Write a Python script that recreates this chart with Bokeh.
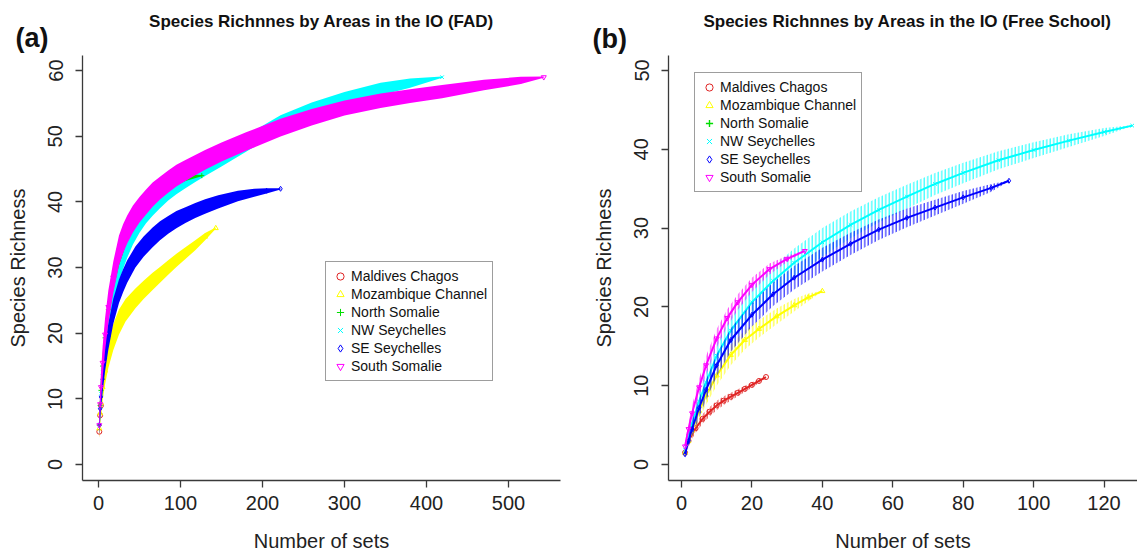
from bokeh.plotting import figure
from bokeh.layouts import row, column
from bokeh.models import Range1d, FixedTicker, Legend, LegendItem
from bokeh.core.properties import value
from bokeh.embed import file_html
from bokeh.resources import INLINE

FONT = "Liberation Sans"

names = ["Maldives Chagos", "Mozambique Channel", "North Somalie",
         "NW Seychelles", "SE Seychelles", "South Somalie"]
colors = ["#E02424", "#FFFF00", "#00DD00", "#00FFFF", "#0000FF", "#FF00FF"]
markers = ["circle", "triangle", "cross", "x", "diamond", "inverted_triangle"]

titles = ["Species Richnnes by Areas in the IO (FAD)",
          "Species Richnnes by Areas in the IO (Free School)"]
tags = ["(a)", "(b)"]

# ---------------- Panel (a): FAD ----------------
fad_ticks_x = [0, 100, 200, 300, 400, 500]
fad_ticks_y = [0, 10, 20, 30, 40, 50, 60]

fad_mal_x = [1, 2, 3]
fad_mal_mean = [5, 7.5, 9]
fad_mal_half = [1.0, 1.0, 0.1]

fad_moz_x = [1, 2, 3, 5, 8, 12, 18, 25, 33, 45, 55, 66, 75, 85, 95, 106, 118, 130, 143]
fad_moz_mean = [5.5, 7.8, 9.4, 11.8, 14.3, 16.8, 19.4, 21.7, 23.5, 25.3, 26.6, 27.9, 28.9, 30, 31.1, 32.2, 33.4, 34.7, 36]
fad_moz_half = [1.5, 1.8, 2, 2.1, 2.1, 2.1, 2, 1.9, 1.7, 1.5, 1.4, 1.3, 1.2, 1.1, 1.0, 0.9, 0.75, 0.55, 0.1]

fad_nso_x = [1, 2, 3, 5, 8, 12, 18, 25, 35, 50, 66, 85, 106, 126]
fad_nso_mean = [6, 9, 11.3, 15, 19.3, 23.6, 28.2, 31.8, 35.4, 38.6, 40.9, 42.6, 43.7, 44]
fad_nso_half = [1.3, 1.6, 1.8, 1.8, 1.8, 1.8, 1.7, 1.5, 1.3, 1.1, 0.9, 0.7, 0.5, 0.1]

fad_nws_x = [1, 2, 3, 5, 8, 12, 18, 25, 30, 35, 42, 50, 58, 66, 75, 85, 95, 106, 118, 130, 150, 180, 222, 260, 300, 344, 380, 419]
fad_nws_mean = [6, 8.8, 10.8, 14, 17.8, 21.8, 26, 29.8, 31.8, 33.4, 35.3, 37, 38.4, 39.5, 40.6, 41.7, 42.6, 43.5, 44.4, 45.3, 46.7, 48.9, 52.0, 54.0, 55.7, 57.2, 58.1, 59]
fad_nws_half = [1.5, 2, 2.2, 2.4, 2.4, 2.4, 2.3, 2.1, 2.0, 1.9, 1.8, 1.7, 1.65, 1.6, 1.55, 1.5, 1.45, 1.4, 1.37, 1.35, 1.3, 1.25, 1.2, 1.15, 1.05, 0.95, 0.7, 0.1]

fad_ses_x = [1, 2, 3, 5, 8, 12, 18, 25, 30, 35, 45, 55, 66, 75, 85, 95, 106, 118, 130, 146, 170, 190, 205, 222]
fad_ses_mean = [6, 8.5, 10.3, 13, 16.2, 19.5, 23.3, 26.4, 28.0, 29.4, 31.6, 33.2, 34.6, 35.6, 36.5, 37.3, 38, 38.7, 39.3, 40, 40.9, 41.4, 41.7, 42]
fad_ses_half = [1.5, 1.8, 2, 2, 2, 2, 1.9, 1.8, 1.75, 1.7, 1.6, 1.55, 1.5, 1.45, 1.35, 1.3, 1.2, 1.15, 1.1, 1.0, 0.8, 0.6, 0.4, 0.1]

fad_sso_x = [1, 2, 3, 5, 8, 12, 18, 25, 30, 35, 42, 50, 58, 66, 75, 85, 95, 106, 118, 130, 150, 180, 222, 260, 300, 344, 380, 419, 470, 515, 543]
fad_sso_mean = [6, 9.2, 11.8, 15.5, 19.8, 24, 28.5, 32.6, 34.4, 35.8, 37.4, 38.8, 40, 41.1, 42.1, 43.1, 44, 44.8, 45.6, 46.4, 47.6, 49.2, 51.3, 52.9, 54.3, 55.4, 56.1, 56.8, 57.8, 58.5, 59]
fad_sso_half = [1.5, 2, 2.2, 2.4, 2.5, 2.5, 2.4, 2.3, 2.2, 2.15, 2.05, 1.95, 1.9, 1.85, 1.75, 1.7, 1.65, 1.6, 1.55, 1.5, 1.45, 1.4, 1.35, 1.25, 1.15, 1.1, 1.05, 1.0, 0.8, 0.55, 0.1]

# ---------------- Panel (b): Free School ----------------
fsc_ticks_x = [0, 20, 40, 60, 80, 100, 120]
fsc_ticks_y = [0, 10, 20, 30, 40, 50]

fsc_mal_x = [1, 2, 4, 6, 8, 10, 12, 14, 16, 18, 20, 22, 24]
fsc_mal_mean = [1.5, 3.0, 4.6, 5.8, 6.7, 7.5, 8.1, 8.6, 9.1, 9.6, 10.1, 10.6, 11.1]
fsc_mal_half = [0.4, 0.5, 0.6, 0.6, 0.6, 0.6, 0.55, 0.5, 0.45, 0.4, 0.35, 0.25, 0.05]

fsc_moz_x = [1, 2, 3, 5, 7, 10, 14, 18, 22, 27, 32, 36, 40]
fsc_moz_mean = [1.5, 3.0, 4.3, 6.8, 8.8, 11.3, 13.9, 15.8, 17.2, 18.8, 20.2, 21.2, 22.0]
fsc_moz_half = [0.5, 0.7, 0.9, 1.1, 1.2, 1.3, 1.3, 1.2, 1.1, 1.0, 0.8, 0.5, 0.05]

fsc_nws_x = [1, 2, 3, 5, 7, 10, 14, 20, 26, 32, 40, 48, 56, 64, 72, 80, 90, 100, 110, 120, 128]
fsc_nws_mean = [1.8, 3.6, 5.2, 8.0, 10.4, 13.8, 17.0, 20.6, 23.3, 25.6, 28.2, 30.4, 32.3, 34.0, 35.6, 37.0, 38.6, 39.9, 41.1, 42.2, 43.0]
fsc_nws_half = [0.6, 0.9, 1.1, 1.3, 1.4, 1.6, 1.7, 1.8, 1.8, 1.8, 1.8, 1.7, 1.6, 1.5, 1.4, 1.3, 1.15, 1.0, 0.8, 0.5, 0.05]

fsc_ses_x = [1, 2, 3, 5, 7, 10, 14, 20, 26, 32, 40, 48, 56, 64, 72, 80, 88, 93]
fsc_ses_mean = [1.3, 3.0, 4.5, 7.2, 9.5, 12.6, 15.8, 19.0, 21.6, 23.7, 26.0, 28.0, 29.8, 31.3, 32.6, 33.9, 35.1, 36.0]
fsc_ses_half = [0.5, 0.8, 1.0, 1.2, 1.3, 1.4, 1.5, 1.5, 1.5, 1.5, 1.5, 1.4, 1.3, 1.2, 1.0, 0.8, 0.5, 0.05]

fsc_sso_x = [1, 2, 3, 5, 7, 10, 13, 16, 20, 25, 30, 35]
fsc_sso_mean = [2.3, 4.5, 6.5, 9.8, 12.6, 16.0, 18.6, 20.6, 22.8, 24.8, 26.1, 27.1]
fsc_sso_half = [0.6, 0.8, 1.0, 1.1, 1.2, 1.2, 1.1, 1.0, 0.9, 0.7, 0.4, 0.05]
# North Somalie has no Free School sets: only its legend entry is shown


def style_axes(p, xticks, yticks):
    p.xaxis.ticker = FixedTicker(ticks=xticks)
    p.yaxis.ticker = FixedTicker(ticks=yticks)
    for ax in (p.xaxis[0], p.yaxis[0]):
        ax.axis_line_color = "#3a3a3a"
        ax.axis_line_width = 1.3
        ax.major_tick_line_color = "#3a3a3a"
        ax.major_tick_line_width = 1.3
        ax.major_tick_out = 7
        ax.major_tick_in = 0
        ax.minor_tick_line_color = None
        ax.major_label_text_font = FONT
        ax.major_label_text_font_size = "20px"
        ax.major_label_text_color = "#222222"
        ax.axis_label_text_font = FONT
        ax.axis_label_text_font_size = "20px"
        ax.axis_label_text_font_style = "normal"
        ax.axis_label_text_color = "#222222"
    p.xaxis.major_label_standoff = 8
    p.yaxis.major_label_standoff = 13
    p.xaxis.axis_label = "Number of sets"
    p.yaxis.axis_label = "Species Richness"
    p.xaxis.axis_label_standoff = 17
    p.yaxis.axis_label_standoff = 17
    p.yaxis.major_label_orientation = "vertical"


def make_panel(width, xr, yr, mbl, mbr, xticks, yticks, data, hatched, legend_loc):
    p = figure(width=width, height=499, output_backend="svg", toolbar_location=None,
               x_range=Range1d(*xr), y_range=Range1d(*yr),
               min_border_left=mbl, min_border_right=mbr,
               min_border_top=0, min_border_bottom=73)
    p.outline_line_color = None
    p.xgrid.grid_line_color = None
    p.ygrid.grid_line_color = None
    p.background_fill_color = "white"
    p.border_fill_color = "white"
    style_axes(p, xticks, yticks)
    # range used only for legend-only series: anything mapped there is outside the frame
    p.extra_y_ranges = {"legend_only": Range1d(-2000, -1000)}

    order = [0, 1, 3, 2, 4, 5]
    legend_renderers = {}
    for i in order:
        xs, mean, half = data[i]
        c = colors[i]
        if xs is None:
            gx, gy, _ = fad_data[i]
            r = p.scatter(x=gx, y=gy, marker=markers[i], size=5,
                          line_color=c, fill_color=None, line_width=1.4,
                          y_range_name="legend_only")
            legend_renderers[i] = r
            continue
        lower = [m - h for m, h in zip(mean, half)]
        upper = [m + h for m, h in zip(mean, half)]
        if hatched:
            p.varea(x=xs, y1=lower, y2=upper, fill_alpha=0,
                    hatch_pattern="vertical_line", hatch_color=c,
                    hatch_scale=3.5, hatch_weight=1.1, hatch_alpha=0.9)
            p.line(x=xs, y=mean, line_color=c, line_width=2)
        else:
            p.varea(x=xs, y1=lower, y2=upper, fill_color=c, fill_alpha=1)
        r = p.scatter(x=xs, y=mean, marker=markers[i], size=5,
                      line_color=c, fill_color=None, line_width=1)
        legend_renderers[i] = r

    items = [LegendItem(label=names[i], renderers=[legend_renderers[i]]) for i in range(6)]
    legend = Legend(items=items, location=legend_loc,
                    border_line_color="#3c3c3c", border_line_width=1.2,
                    background_fill_color="white", background_fill_alpha=1,
                    label_text_font=FONT, label_text_font_size="14px",
                    label_text_color="#111111",
                    padding=5, spacing=0, margin=0,
                    glyph_width=18, glyph_height=18, label_height=18,
                    label_standoff=2)
    p.add_layout(legend)
    return p


fad_data = [(fad_mal_x, fad_mal_mean, fad_mal_half),
            (fad_moz_x, fad_moz_mean, fad_moz_half),
            (fad_nso_x, fad_nso_mean, fad_nso_half),
            (fad_nws_x, fad_nws_mean, fad_nws_half),
            (fad_ses_x, fad_ses_mean, fad_ses_half),
            (fad_sso_x, fad_sso_mean, fad_sso_half)]
fsc_data = [(fsc_mal_x, fsc_mal_mean, fsc_mal_half),
            (fsc_moz_x, fsc_moz_mean, fsc_moz_half),
            (None, None, None),
            (fsc_nws_x, fsc_nws_mean, fsc_nws_half),
            (fsc_ses_x, fsc_ses_mean, fsc_ses_half),
            (fsc_sso_x, fsc_sso_mean, fsc_sso_half)]

pa = make_panel(568, (-19.5, 563.4), (-2.43, 62.3), 82, 8,
                fad_ticks_x, fad_ticks_y, fad_data, False, (243, 99))
pb = make_panel(569, (-3.69, 129.5), (-2.03, 51.9), 100, 0,
                fsc_ticks_x, fsc_ticks_y, fsc_data, True, (26, 288))

# Heading strip (pixel-space frame) holding panel titles and tags
head = figure(width=1137, height=55, output_backend="svg", toolbar_location=None,
              x_range=Range1d(0, 1137), y_range=Range1d(55, 0),
              x_axis_type=None, y_axis_type=None,
              min_border=0, min_border_left=0, min_border_right=0,
              min_border_top=0, min_border_bottom=0)
head.outline_line_color = None
head.xgrid.grid_line_color = None
head.ygrid.grid_line_color = None
head.border_fill_color = "white"
head.text(x=[321, 907], y=[21, 21], text=titles,
          text_font=value(FONT), text_font_size="17px", text_font_style="bold",
          text_align="center", text_baseline="middle", text_color="#111111")
head.text(x=[15, 592], y=[37, 38], text=tags,
          text_font=value(FONT), text_font_size="27px", text_font_style="bold",
          text_align="left", text_baseline="middle", text_color="#111111")

layout = column(head, row(pa, pb, spacing=0), spacing=0)
open("out.html", "w").write(file_html(layout, INLINE))
